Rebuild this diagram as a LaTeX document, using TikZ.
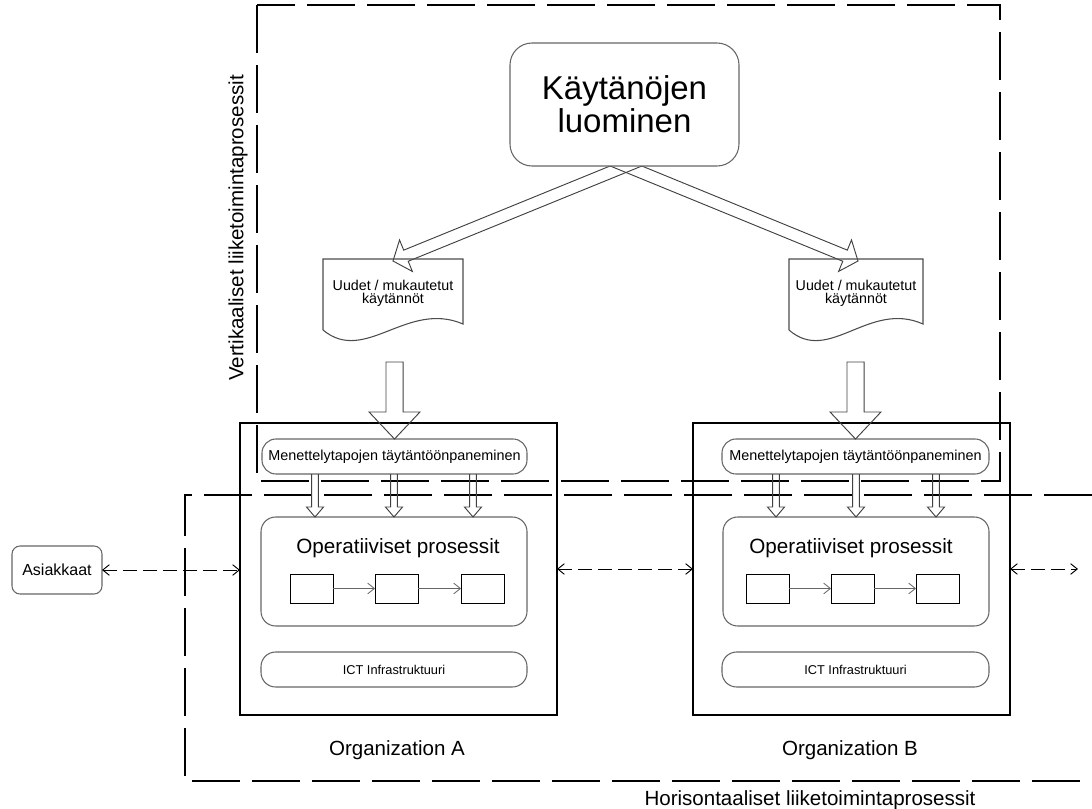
\documentclass[tikz,border=0pt]{standalone}
\usepackage{fontspec}
\setmainfont{Liberation Sans}
\usetikzlibrary{calc,arrows.meta}
\pgfdeclarelayer{bg}
\pgfsetlayers{bg,main}

% Outlined block arrow: #1 style, #2 start, #3 tip, #4 half shaft width,
% #5 half head width, #6 head length, #7 optional "-- cycle"
\newcommand\fatarrow[7]{%
  \coordinate (fatH) at ($(#3)!#6!(#2)$);
  \draw[#1] ($(#2)!#4!90:(#3)$) -- ($(fatH)!#4!-90:(#2)$) -- ($(fatH)!#5!-90:(#2)$)
    -- (#3) -- ($(fatH)!#5!90:(#2)$) -- ($(fatH)!#4!90:(#2)$) -- ($(#2)!#4!-90:(#3)$) #7;
}

\begin{document}
\begin{tikzpicture}[x=0.75pt,y=-0.75pt,
  every node/.style={inner sep=0pt, outer sep=0pt},
  line width=0.75pt,
  sz/.style 2 args={minimum width=#1*0.75pt, minimum height=#2*0.75pt},
  frame/.style={draw=black, line width=0.8pt, dash pattern=on 36pt off 9pt},
  orgbox/.style={draw=black, line width=0.8pt, anchor=north west},
  rbox/.style={draw=black!60, line width=0.8pt, fill=white, anchor=north west},
  pbox/.style={draw=black, line width=0.75pt, anchor=north west, sz={43}{29}},
  docline/.style={draw=black!70, line width=0.8pt},
  fat/.style={draw=black!75, line width=0.7pt},
  conn/.style={draw=black, line width=0.7pt, dash pattern=on 10pt off 5pt,
    {Straight Barb[length=5pt,width=8pt]}-{Straight Barb[length=5pt,width=8pt]}},
  flow/.style={draw=black!60, line width=0.6pt, -{Straight Barb[length=5pt,width=8pt]}},
  lbl/.style={font=\fontsize{15.4}{18}\selectfont},
]
\useasboundingbox (0,0) rectangle (1092,809);

% process frames
\draw[frame] (257,5) rectangle (1000,481);
\draw[frame] (1092,495) -- (185,495) -- (185,781) -- (1092,781);

% organisations
\node[orgbox, sz={317}{292}] (orgA) at (240,423) {};
\node[orgbox, sz={317}{292}] (orgB) at (693,423) {};

% policy creation and its outputs
\node[rbox, rounded corners=16.5pt, sz={229}{123}, align=center,
      font=\fontsize{24.75}{24.75}\selectfont] (kl) at (510,43) {Käytänöjen\\luominen};
\coordinate (kb) at ($(kl.south)+(1.5,0)$);
\coordinate (tipL) at (393,261);
\coordinate (tipR) at (858,261);
\coordinate (startL) at ($(tipL)!1.25!(kb)$);
\coordinate (startR) at ($(tipR)!1.25!(kb)$);
\begin{pgfonlayer}{bg}
  \fatarrow{fat}{startL}{tipL}{4.5pt}{12.75pt}{10.5pt}{}
  \fatarrow{fat}{startR}{tipR}{4.5pt}{12.75pt}{10.5pt}{}
\end{pgfonlayer}

% documents
\draw[docline] (323,330) -- (323,259) -- (463,259) -- (463,324)
  .. controls (407,300) and (365,365) .. (323,330);
\node[font=\fontsize{10.7}{9.75}\selectfont, align=center] (docA) at (393,293)
  {Uudet / mukautetut\\käytännöt};
\draw[docline] (789,330) -- (789,259) -- (923,259) -- (923,324)
  .. controls (869,300) and (829,365) .. (789,330);
\node[font=\fontsize{10.7}{9.75}\selectfont, align=center] (docB) at (856,293)
  {Uudet / mukautetut\\käytännöt};

% implementation boxes
\node[rbox, rounded corners=10.5pt, sz={265}{35}, font=\fontsize{10.8}{12}\selectfont]
  (menA) at (262,439) {Menettelytapojen täytäntöönpaneminen};
\node[rbox, rounded corners=10.5pt, sz={267}{35}, font=\fontsize{10.8}{12}\selectfont]
  (menB) at (722,439) {Menettelytapojen täytäntöönpaneminen};

\coordinate (vA) at (394.5,362);
\coordinate (vB) at (855.5,362);
\fatarrow{fat}{vA}{menA.north}{6.4pt}{19.1pt}{20.25pt}{-- cycle}
\fatarrow{fat}{vB}{menB.north}{6.4pt}{19.1pt}{20.25pt}{-- cycle}

% operative processes
\node[rbox, rounded corners=11pt, sz={266}{109}] (opA) at (261,517) {};
\node[rbox, rounded corners=11pt, sz={266}{109}] (opB) at (723,517) {};
\node[anchor=base, font=\fontsize{15.5}{18}\selectfont] (opAt) at (398,553) {Operatiiviset prosessit};
\node[anchor=base, font=\fontsize{15.5}{18}\selectfont] (opBt) at (851,553) {Operatiiviset prosessit};

\foreach \x [count=\i] in {315,394,473} {
  \coordinate (sA\i) at (\x,474);
  \fatarrow{fat}{sA\i}{sA\i |- opA.north}{2.5pt}{6.4pt}{7.5pt}{}
}
\foreach \x [count=\i] in {776,856,936} {
  \coordinate (sB\i) at (\x,474);
  \fatarrow{fat}{sB\i}{sB\i |- opB.north}{2.5pt}{6.4pt}{7.5pt}{}
}

\node[pbox] (pA1) at (290,574) {};
\node[pbox] (pA2) at (375,574) {};
\node[pbox] (pA3) at (461,574) {};
\node[pbox] (pB1) at (746,574) {};
\node[pbox] (pB2) at (831,574) {};
\node[pbox] (pB3) at (916,574) {};
\draw[flow] (pA1) -- (pA2);
\draw[flow] (pA2) -- (pA3);
\draw[flow] (pB1) -- (pB2);
\draw[flow] (pB2) -- (pB3);

% infrastructure
\node[rbox, rounded corners=11pt, sz={266}{35}, font=\fontsize{9.6}{11}\selectfont]
  (ictA) at (261,652) {ICT Infrastruktuuri};
\node[rbox, rounded corners=11pt, sz={267}{35}, font=\fontsize{9.6}{11}\selectfont]
  (ictB) at (722,652) {ICT Infrastruktuuri};

% customers and horizontal links
\node[rbox, rounded corners=6pt, sz={90}{48}, font=\fontsize{12}{14}\selectfont]
  (asi) at (12,546) {Asiakkaat};
\coordinate (outR) at (1078,569);
\draw[conn] (asi.east) -- (asi.east -| orgA.west);
\draw[conn] (orgA.east) -- (orgB.west);
\draw[conn] (orgB.east) -- (outR);

% labels
\node[lbl, anchor=base] (labA) at (397,755) {Organization A};
\node[lbl, anchor=base] (labB) at (850,755) {Organization B};
\node[lbl, anchor=base] (hlab) at (810,805) {Horisontaaliset liiketoimintaprosessit};
\node[lbl, rotate=90] (vlab) at (238,228) {Vertikaaliset liiketoimintaprosessit};
\end{tikzpicture}
\end{document}
